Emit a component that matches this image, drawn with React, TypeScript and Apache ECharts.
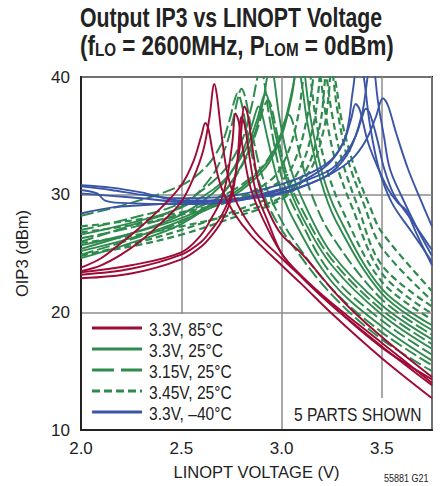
import React, { useEffect, useRef } from "react";
import * as echarts from "echarts";

type Pt = [number, number];

const xTicks = [2.0, 2.5, 3.0, 3.5];
const yTicks = [10, 20, 30, 40];
const legendLabels = ["3.3V, 85°C", "3.3V, 25°C", "3.15V, 25°C", "3.45V, 25°C", "3.3V, –40°C"];

// 3.3V, 85°C (5 parts)
const hot85: Pt[][] = [
  [[2.0,23.8],[2.1,24.6],[2.2,25.9],[2.3,27.3],[2.4,28.9],[2.5,30.8],[2.56,32.8],[2.6,35.0],[2.62,36.1],[2.635,35.6],[2.66,33.3],[2.7,30.6],[2.76,28.5],[2.85,26.5],[3.0,24.0],[3.1,22.4],[3.25,19.9],[3.5,16.1],[3.75,12.7]],
  [[2.0,23.5],[2.1,24.0],[2.2,24.9],[2.3,26.1],[2.4,27.6],[2.5,29.4],[2.56,31.4],[2.61,33.8],[2.64,36.5],[2.665,39.4],[2.678,38.4],[2.7,35.2],[2.73,31.8],[2.78,29.2],[2.87,26.8],[3.0,24.6],[3.1,23.0],[3.25,20.6],[3.5,17.1],[3.75,13.8]],
  [[2.0,23.4],[2.25,24.0],[2.5,25.1],[2.6,26.6],[2.65,28.0],[2.7,29.6],[2.73,31.6],[2.755,34.5],[2.77,36.9],[2.785,36.3],[2.81,33.6],[2.845,30.6],[2.9,28.2],[3.0,25.0],[3.1,23.1],[3.25,20.8],[3.5,17.4],[3.75,14.0]],
  [[2.0,23.2],[2.25,23.7],[2.5,24.9],[2.6,26.0],[2.65,27.0],[2.7,28.2],[2.75,30.2],[2.79,33.8],[2.815,37.5],[2.83,36.9],[2.855,34.0],[2.885,31.0],[2.94,28.4],[3.0,26.6],[3.1,25.0],[3.25,22.0],[3.35,20.2],[3.5,17.9],[3.75,14.5]],
  [[2.0,22.9],[2.25,23.3],[2.5,24.5],[2.6,25.6],[2.65,26.5],[2.7,27.7],[2.75,29.7],[2.78,33.0],[2.8,36.6],[2.815,36.0],[2.84,33.2],[2.87,30.4],[2.93,27.8],[3.0,25.0],[3.1,23.0],[3.25,20.6],[3.5,17.0],[3.75,14.3]],
];

// 3.3V, 25°C (solid)
const room33: Pt[][] = [
  [[2.0,25.4],[2.25,26.7],[2.5,28.3],[2.7,30.8],[2.8,33.5],[2.85,35.8],[2.875,37.2],[2.885,37.5],[2.9,37.0],[2.93,34.8],[2.98,31.3],[3.05,28.2],[3.25,22.6],[3.5,18.8],[3.75,15.9]],
  [[2.0,26.6],[2.25,27.6],[2.5,28.9],[2.7,31.0],[2.82,33.8],[2.88,36.5],[2.905,38.1],[2.92,38.6],[2.935,38.0],[2.965,35.5],[3.02,31.5],[3.1,28.2],[3.25,24.0],[3.5,19.8],[3.75,16.9]],
  [[2.0,24.6],[2.25,25.9],[2.5,27.5],[2.7,30.0],[2.83,33.5],[2.9,37.3],[2.93,40.2],[2.945,41.5],[2.96,40.2],[2.99,36.5],[3.04,32.5],[3.12,29.0],[3.25,25.0],[3.5,20.6],[3.75,17.7]],
  [[2.0,25.2],[2.25,26.3],[2.5,27.8],[2.75,29.8],[2.92,32.3],[3.0,35.0],[3.05,38.3],[3.08,41.0],[3.1,39.5],[3.13,36.0],[3.19,31.5],[3.27,27.8],[3.5,21.6],[3.75,18.5]],
  [[2.0,25.7],[2.25,26.7],[2.5,28.0],[2.75,30.0],[2.92,32.6],[3.0,35.3],[3.06,39.5],[3.09,43.0],[3.11,41.0],[3.14,37.0],[3.2,32.0],[3.28,28.3],[3.5,22.0],[3.75,18.9]],
];

// 3.15V, 25°C (long dash)
const low315: Pt[][] = [
  [[2.0,28.2],[2.25,29.3],[2.5,30.8],[2.62,32.3],[2.7,34.3],[2.74,36.3],[2.765,38.0],[2.78,38.6],[2.8,37.8],[2.83,35.2],[2.88,31.5],[2.95,28.5],[3.05,25.8],[3.25,21.5],[3.5,17.7],[3.75,15.0]],
  [[2.0,26.0],[2.25,27.4],[2.5,29.0],[2.65,31.5],[2.72,34.0],[2.76,36.5],[2.785,38.4],[2.8,39.0],[2.82,38.2],[2.85,35.5],[2.9,31.8],[2.97,28.8],[3.05,26.4],[3.25,22.0],[3.5,18.3],[3.75,15.5]],
  [[2.0,27.0],[2.25,28.0],[2.5,29.3],[2.7,31.8],[2.8,34.5],[2.85,37.5],[2.88,40.0],[2.895,41.0],[2.91,40.0],[2.94,36.5],[3.0,31.5],[3.08,28.3],[3.25,23.2],[3.5,19.3],[3.75,16.4]],
  [[2.0,26.3],[2.25,27.2],[2.5,28.4],[2.75,30.3],[2.9,32.3],[2.98,34.5],[3.015,36.2],[3.035,36.8],[3.055,36.2],[3.09,33.5],[3.15,30.0],[3.25,26.5],[3.5,21.1],[3.75,18.1]],
  [[2.0,24.9],[2.25,26.2],[2.5,27.7],[2.7,30.0],[2.82,33.0],[2.88,35.6],[2.915,37.6],[2.935,38.0],[2.95,37.4],[2.98,35.0],[3.03,31.5],[3.1,28.8],[3.25,24.5],[3.5,20.2],[3.75,17.3]],
];

// 3.45V, 25°C (short dash)
const high345: Pt[][] = [
  [[2.0,26.8],[2.25,27.4],[2.5,28.3],[2.75,29.5],[2.95,31.3],[3.03,33.5],[3.08,36.5],[3.105,39.5],[3.12,42.0],[3.14,40.5],[3.17,36.5],[3.22,32.5],[3.3,28.8],[3.5,22.6],[3.75,19.4]],
  [[2.0,27.3],[2.25,27.8],[2.5,28.5],[2.75,29.5],[3.0,31.2],[3.08,33.5],[3.13,36.8],[3.155,39.5],[3.17,42.0],[3.19,40.5],[3.22,36.8],[3.27,32.8],[3.35,29.0],[3.5,23.3],[3.75,19.9]],
  [[2.0,24.8],[2.25,25.8],[2.5,27.0],[2.75,28.5],[3.0,30.3],[3.1,32.5],[3.16,36.0],[3.185,39.0],[3.2,42.0],[3.22,40.5],[3.25,37.0],[3.3,33.0],[3.38,29.0],[3.5,24.0],[3.75,20.5]],
  [[2.0,25.9],[2.25,26.5],[2.5,27.3],[2.75,28.3],[3.0,29.8],[3.12,32.0],[3.19,35.8],[3.215,39.5],[3.23,43.0],[3.25,41.0],[3.28,37.0],[3.33,33.0],[3.41,29.2],[3.5,25.5],[3.75,21.0]],
  [[2.0,24.9],[2.25,25.6],[2.5,26.6],[2.75,28.0],[3.0,29.6],[3.14,32.0],[3.21,35.5],[3.235,38.5],[3.25,41.0],[3.27,39.5],[3.3,36.3],[3.36,32.5],[3.44,29.0],[3.5,26.8],[3.75,21.8]],
];

// 3.3V, -40°C (5 parts)
const cold40: Pt[][] = [
  [[2.0,30.7],[2.15,30.4],[2.3,30.0],[2.5,29.7],[2.75,29.9],[3.0,30.9],[3.15,31.9],[3.25,33.0],[3.31,34.5],[3.345,36.3],[3.37,37.7],[3.39,37.2],[3.43,34.5],[3.48,32.3],[3.53,30.5],[3.58,29.3],[3.62,28.7],[3.67,26.8],[3.75,24.0]],
  [[2.0,30.8],[2.15,30.6],[2.3,30.2],[2.5,29.5],[2.75,29.6],[3.0,30.5],[3.15,31.4],[3.25,32.2],[3.32,33.5],[3.37,35.0],[3.4,36.5],[3.42,37.3],[3.44,36.9],[3.48,34.5],[3.51,32.3],[3.56,30.0],[3.65,27.8],[3.75,25.3]],
  [[2.0,30.1],[2.15,29.9],[2.3,29.7],[2.5,29.4],[2.75,29.6],[3.0,30.2],[3.15,31.0],[3.25,31.8],[3.35,33.0],[3.42,34.6],[3.47,36.6],[3.505,38.2],[3.53,37.6],[3.57,35.3],[3.63,32.2],[3.69,29.7],[3.75,27.3]],
  [[2.0,30.4],[2.08,30.1],[2.12,29.5],[2.2,29.3],[2.5,29.2],[2.75,29.4],[3.0,30.4],[3.15,31.6],[3.25,32.9],[3.32,35.0],[3.355,38.8],[3.385,42.0],[3.41,40.0],[3.44,36.0],[3.485,32.2],[3.55,29.3],[3.65,26.8],[3.75,24.3]],
  [[2.0,28.4],[2.15,28.9],[2.3,29.1],[2.5,29.3],[2.75,29.5],[3.0,30.1],[3.15,31.0],[3.25,31.9],[3.34,33.8],[3.4,36.8],[3.425,39.5],[3.445,42.0],[3.46,41.0],[3.48,38.0],[3.51,35.0],[3.54,32.2],[3.6,29.8],[3.68,27.0],[3.75,24.8]],
];

const RED = "#9e0b36";
const GREEN = "#2f8b4d";
const BLUE = "#3a55a6";
const INK = "#222";
const SANS = "'Liberation Sans', Arial, sans-serif";
const DASH_LONG = [13, 4];
const DASH_SHORT = [7, 4];

export default function App() {
  const ref = useRef<HTMLDivElement>(null);
  useEffect(() => {
    document.body.style.margin = "0";
    const chart = echarts.init(ref.current!, undefined, { renderer: "svg" });
    const series: any[] = [];
    const add = (curves: Pt[][], name: string, color: string, type: any, width: number, z: number) => {
      curves.forEach((c) =>
        series.push({
          type: "line",
          name,
          data: c,
          smooth: 0.35,
          symbol: "none",
          clip: true,
          silent: true,
          z,
          lineStyle: { color, width, type },
        })
      );
    };
    add(high345, legendLabels[3], GREEN, DASH_SHORT, 2.2, 2);
    add(low315, legendLabels[2], GREEN, DASH_LONG, 2, 2);
    add(room33, legendLabels[1], GREEN, "solid", 1.9, 2);
    add(cold40, legendLabels[4], BLUE, "solid", 1.9, 3);
    add(hot85, legendLabels[0], RED, "solid", 1.9, 4);

    const legendColors = [RED, GREEN, GREEN, GREEN, BLUE];
    const legendDash: any[] = [null, null, [22, 7], [8, 4], null];
    const legendY = [328, 349, 370, 391, 412];
    const legendEls: any[] = [];
    legendLabels.forEach((lab, i) => {
      legendEls.push({
        type: "line",
        z: 11,
        shape: { x1: 92, y1: legendY[i], x2: 142, y2: legendY[i] },
        style: { stroke: legendColors[i], lineWidth: 3, lineDash: legendDash[i] },
      });
      legendEls.push({
        type: "text",
        z: 11,
        x: 149,
        y: legendY[i] + 1,
        scaleX: 0.82,
        style: { text: lab, fontSize: 19, fontFamily: SANS, fill: INK, verticalAlign: "middle" },
      });
    });

    chart.setOption({
      animation: false,
      grid: { left: 81, right: 12, top: 77, bottom: 56, show: true, borderColor: INK, borderWidth: 2, backgroundColor: "transparent" },
      xAxis: {
        type: "value",
        min: 2,
        max: 3.75,
        interval: 0.5,
        name: "LINOPT VOLTAGE (V)",
        nameLocation: "middle",
        nameGap: 33,
        nameTextStyle: { fontSize: 16.5, fontFamily: SANS, color: INK },
        axisLine: { show: true, lineStyle: { color: INK, width: 2 } },
        axisTick: { show: false },
        axisLabel: {
          fontSize: 17,
          fontFamily: SANS,
          color: INK,
          margin: 10,
          formatter: (v: number) => (xTicks.includes(v) ? v.toFixed(1) : ""),
        },
        splitLine: { show: true, lineStyle: { color: "#8c8c8c", width: 1.5 } },
      },
      yAxis: {
        type: "value",
        min: 10,
        max: 40,
        interval: 10,
        name: "OIP3 (dBm)",
        nameLocation: "middle",
        nameGap: 51,
        nameRotate: 90,
        nameTextStyle: { fontSize: 16.5, fontFamily: SANS, color: INK },
        axisLine: { show: true, lineStyle: { color: INK, width: 2 } },
        axisTick: { show: false },
        axisLabel: {
          fontSize: 17,
          fontFamily: SANS,
          color: INK,
          margin: 11,
          formatter: (v: number) => (yTicks.includes(v) ? String(v) : ""),
        },
        splitLine: { show: true, lineStyle: { color: "#8c8c8c", width: 1.5 } },
      },
      series,
      graphic: [
        {
          type: "text",
          x: 80,
          y: 17,
          scaleX: 0.76,
          style: {
            text: "Output IP3 vs LINOPT Voltage",
            fontSize: 28,
            fontWeight: "bold",
            fontFamily: SANS,
            fill: INK,
            verticalAlign: "middle",
          },
        },
        {
          type: "text",
          x: 80,
          y: 31,
          scaleX: 0.8,
          style: {
            text: "{m|(f}{s|LO}{m| = 2600MHz, P}{s|LOM}{m| = 0dBm)}",
            fill: INK,
            verticalAlign: "top",
            rich: {
              m: { fontSize: 28, fontWeight: "bold", fontFamily: SANS, fill: INK, lineHeight: 28, verticalAlign: "top" },
              s: { fontSize: 19, fontWeight: "bold", fontFamily: SANS, fill: INK, lineHeight: 1, verticalAlign: "bottom" },
            },
          },
        },
        { type: "rect", z: 10, shape: { x: 82, y: 314, width: 185, height: 115 }, style: { fill: "#fff" } },
        { type: "rect", z: 10, shape: { x: 288, y: 398, width: 143, height: 31 }, style: { fill: "#fff" } },
        ...legendEls,
        {
          type: "text",
          z: 11,
          x: 294,
          y: 414,
          scaleX: 0.82,
          style: { text: "5 PARTS SHOWN", fontSize: 19, fontFamily: SANS, fill: INK, verticalAlign: "middle" },
        },
        {
          type: "text",
          x: 384,
          y: 478,
          scaleX: 0.82,
          style: { text: "55881 G21", fontSize: 11, fontFamily: SANS, fill: INK, verticalAlign: "middle" },
        },
      ],
    });
    return () => chart.dispose();
  }, []);
  return <div ref={ref} style={{ width: 444, height: 486 }} />;
}
